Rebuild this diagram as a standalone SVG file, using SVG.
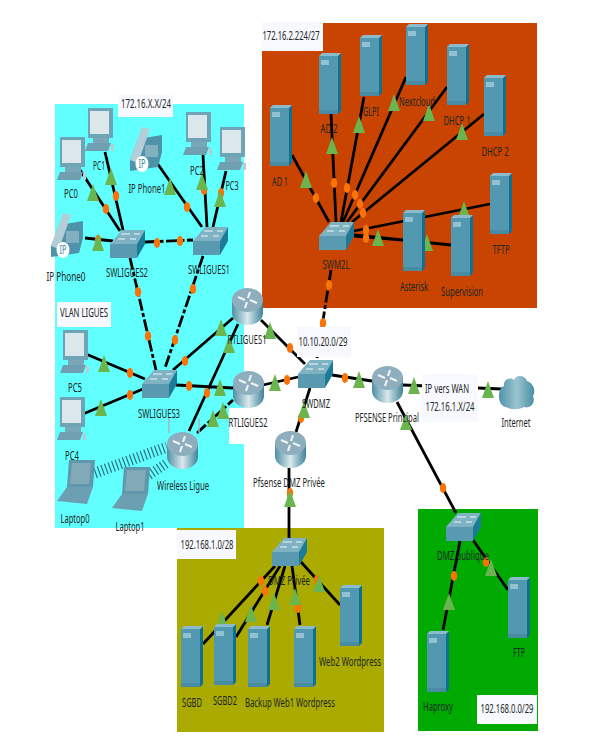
<svg xmlns="http://www.w3.org/2000/svg" xmlns:xlink="http://www.w3.org/1999/xlink" width="602" height="741" viewBox="0 0 602 741">
<style>
text{font-family:"Noto Sans","Open Sans","Liberation Sans",sans-serif;font-size:12.5px;fill:#1c2626;text-anchor:middle}
.ip{font-size:12px;fill:#4a8ea5}
.l{fill:none;stroke:#000;stroke-width:2.8}
.d{stroke-dasharray:12 2.5 4 2.5}
.w{fill:none;stroke:#2f6f80;stroke-dasharray:1.2 2.6}
.note{fill:#f8f9fe}
.t{fill:#6ab54d}
.o{fill:#f97408}
.arrow{fill:none;stroke:#f2f7f8;stroke-width:1}
</style>
<defs>
<linearGradient id="cyl" x1="0" x2="1" y1="0" y2="0"><stop offset="0" stop-color="#4f8ea4"/><stop offset=".5" stop-color="#d9e9ec"/><stop offset="1" stop-color="#3e8399"/></linearGradient>
<linearGradient id="cl" x1="0" x2="1" y1="0" y2="0"><stop offset="0" stop-color="#4e93aa"/><stop offset=".5" stop-color="#9cc4d0"/><stop offset="1" stop-color="#4a8ea6"/></linearGradient>
<polygon id="tri" class="t" points="0,-9 6,8 -6,8"/>
<ellipse id="dot" class="o" rx="3.2" ry="5"/>
<g id="server">
<rect x="0" y="4" width="19" height="58" fill="#5198b0"/>
<rect x="0" y="58" width="19" height="4" fill="#488ca3"/>
<polygon points="19,4 22,1 22,59 19,62" fill="#0f708f"/>
<polygon points="0,4 3,1 22,1 19,4" fill="#8cbccb"/>
<rect x="2" y="8" width="8" height="5" fill="#92c2d1"/>
</g>
<g id="switch">
<polygon points="0,14 12,0 35,0 27,14" fill="#7fb3c4"/>
<rect x="0" y="14" width="27" height="14" fill="#5a9ab0"/>
<polygon points="27,14 35,0 35,14 27,28" fill="#1c7b98"/>
<path class="arrow" d="M11,4H20M24,4H30M8,9H15M20,9H26"/>
</g>
<g id="router">
<path d="M0,12V25A15.5,12 0 0 0 31,25V12Z" fill="url(#cyl)"/>
<ellipse cx="15.5" cy="12" rx="15.5" ry="12" fill="#8eaebd"/>
<path d="M6,9L13,12M25,15L18,12M18,4L16,10M13,20L15,14" fill="none" stroke="#eef4f6" stroke-width="2.2"/>
</g>
<g id="pc">
<rect x="3" y="0" width="25" height="30" fill="#6fa3b6"/>
<rect x="5" y="3" width="19" height="23" fill="#dbe7eb"/>
<rect x="8" y="30" width="16" height="5" fill="#7aa7b8"/>
<polygon points="3,35 26,35 23,43 0,43" fill="#6f9fb1"/>
<rect x="26" y="36" width="3" height="7" fill="#b6ccd4"/>
</g>
<g id="phone">
<polygon points="8,12 32,8 32,25 28,40 0,44 0,33" fill="#4f93aa"/>
<polygon points="0,33 12,0 20,2 8,36" fill="#b4ced7"/>
<rect x="15" y="18" width="13" height="12" fill="#83b0bf"/>
<ellipse cx="12" cy="37" rx="6.5" ry="8" fill="#fff"/>
</g>
<g id="laptop">
<polygon points="12,1 38,1 36,28 10,28" fill="#5f98ad"/>
<polygon points="15,4 34,4 32,25 13,25" fill="#82a9b7"/>
<polygon points="10,28 36,28 30,45 0,42" fill="#6c9fb2"/>
</g>
</defs>

<rect x="55" y="104" width="189" height="424" fill="#62ffff"/>
<rect x="262" y="23" width="275" height="285" fill="#c84400"/>
<rect x="177" y="528" width="207" height="204" fill="#aaaa00"/>
<rect x="418" y="509" width="120" height="222" fill="#00aa00"/>
<rect x="229" y="408" width="16" height="36" fill="#fff"/>

<g id="connectors">
<path class="w" stroke-width="11" d="M95,473L167,447"/>
<path class="w" stroke-width="10" d="M149,475L167,463"/>
<path class="l" d="M80,170L120,231M105,152L123,230M157,163L202,227M203,155L207,227M226,171L213,227M85,238L113,241"/>
<path class="l d" d="M145,242L193,240M130,258L156,370M203,256L165,368M197,433L233,400M331,270L317,358"/>
<path class="l" d="M86,354L145,379M83,414L143,389M173,370L233,318M176,385L233,388M189,431L238,324M261,320L305,364M263,385L298,377"/>
<path class="l" d="M292,155L329,222M331,114L336,222M364,97L341,222M406,77L343,222M447,87L347,222M484,114L352,222M490,204L354,231M403,240L354,236M451,245L354,235"/>
<path class="l" d="M332,375L372,381M403,385L502,389M397,402L456,513M310,388L296,432M289,468V538"/>
<path class="l" d="M203,644L275,566M236,637L280,566M267,625L285,566M300,625L292,566M340,605L301,562M460,541L443,630M473,540L508,590"/>
<g>
<use href="#dot" x="106" y="209"/><use href="#dot" x="116" y="196"/><use href="#dot" x="187" y="207"/><use href="#dot" x="204" y="190"/><use href="#dot" x="221" y="193"/>
<use href="#dot" x="157" y="243"/><use href="#dot" x="180" y="241"/><use href="#dot" x="138" y="292"/><use href="#dot" x="148" y="336"/><use href="#dot" x="193" y="289"/><use href="#dot" x="175" y="340"/>
<use href="#dot" x="130" y="373"/><use href="#dot" x="130" y="395"/><use href="#dot" x="185" y="361"/><use href="#dot" x="189" y="386"/><use href="#dot" x="207" y="393"/>
<use href="#dot" x="290" y="348"/><use href="#dot" x="287" y="380"/><use href="#dot" x="316" y="198"/><use href="#dot" x="334" y="183"/><use href="#dot" x="347" y="188"/><use href="#dot" x="355" y="195"/><use href="#dot" x="360" y="204"/><use href="#dot" x="363" y="213"/><use href="#dot" x="366" y="230"/><use href="#dot" x="366" y="238"/>
<use href="#dot" x="329" y="285"/><use href="#dot" x="323" y="323"/><use href="#dot" x="345" y="378"/><use href="#dot" x="443" y="488"/><use href="#dot" x="301" y="418"/><use href="#dot" x="290" y="493"/>
<use href="#dot" x="261" y="581"/><use href="#dot" x="265" y="591"/><use href="#dot" x="298" y="608"/><use href="#dot" x="317" y="580"/><use href="#dot" x="454" y="576"/><use href="#dot" x="486" y="562"/><use href="#dot" x="98" y="240"/>
<use href="#tri" x="93" y="193"/><use href="#tri" x="111" y="177"/><use href="#tri" x="170" y="187"/><use href="#tri" x="202" y="182"/><use href="#tri" x="220" y="199"/><use href="#tri" x="98" y="243"/>
<use href="#tri" x="104" y="364"/><use href="#tri" x="101" y="408"/><use href="#tri" x="221" y="328"/><use href="#tri" x="220" y="388"/><use href="#tri" x="229" y="345"/><use href="#tri" x="213" y="419"/><use href="#tri" x="223" y="411"/>
<use href="#tri" x="270" y="331"/><use href="#tri" x="275" y="383"/><use href="#tri" x="306" y="180"/><use href="#tri" x="332" y="146"/><use href="#tri" x="359" y="125"/><use href="#tri" x="394" y="103"/><use href="#tri" x="429" y="113"/><use href="#tri" x="462" y="132"/><use href="#tri" x="464" y="210"/><use href="#tri" x="378" y="238"/><use href="#tri" x="427" y="243"/>
<use href="#tri" x="359" y="380"/><use href="#tri" x="414" y="386"/><use href="#tri" x="488" y="390"/><use href="#tri" x="406" y="422"/><use href="#tri" x="304" y="410"/><use href="#tri" x="290" y="499"/>
<use href="#tri" x="222" y="620"/><use href="#tri" x="251" y="614"/><use href="#tri" x="274" y="602"/><use href="#tri" x="295" y="597"/><use href="#tri" x="319" y="584"/><use href="#tri" x="449" y="602"/><use href="#tri" x="491" y="568"/>
</g>
</g>

<g id="notes">
<rect class="note" x="118" y="95" width="55" height="22"/><text x="146" y="108" textLength="50" lengthAdjust="spacingAndGlyphs">172.16.X.X/24</text>
<rect class="note" x="57" y="302" width="54" height="25"/><text x="84" y="317" textLength="48" lengthAdjust="spacingAndGlyphs">VLAN LIGUES</text>
<rect class="note" x="262" y="22" width="61" height="29"/><text x="291" y="40" textLength="57" lengthAdjust="spacingAndGlyphs">172.16.2.224/27</text>
<rect class="note" x="297" y="327" width="54" height="30"/><text x="323" y="346" textLength="49" lengthAdjust="spacingAndGlyphs">10.10.20.0/29</text>
<rect class="note" x="422" y="374" width="56" height="48"/><text x="447" y="393" textLength="44" lengthAdjust="spacingAndGlyphs">IP vers WAN</text><text x="450" y="411" textLength="49" lengthAdjust="spacingAndGlyphs">172.16.1.X/24</text>
<rect class="note" x="177" y="530" width="59" height="29"/><text x="207" y="549" textLength="53" lengthAdjust="spacingAndGlyphs">192.168.1.0/28</text>
<rect class="note" x="477" y="695" width="60" height="29"/><text x="507" y="713" textLength="53" lengthAdjust="spacingAndGlyphs">192.168.0.0/29</text>
</g>

<g id="PC0"><use href="#pc" x="57" y="137"/><text x="71" y="198" textLength="14" lengthAdjust="spacingAndGlyphs">PC0</text></g>
<g id="PC1"><use href="#pc" x="85" y="108"/><text x="99" y="170" textLength="12" lengthAdjust="spacingAndGlyphs">PC1</text></g>
<g id="IP-Phone1"><use href="#phone" x="130" y="127"/><text class="ip" x="142" y="168" textLength="7" lengthAdjust="spacingAndGlyphs">IP</text><text x="147" y="193" textLength="37" lengthAdjust="spacingAndGlyphs">IP Phone1</text></g>
<g id="PC2"><use href="#pc" x="183" y="112"/><text x="197" y="175" textLength="14" lengthAdjust="spacingAndGlyphs">PC2</text></g>
<g id="PC3"><use href="#pc" x="217" y="127"/><text x="232" y="190" textLength="13" lengthAdjust="spacingAndGlyphs">PC3</text></g>
<g id="IP-Phone0"><use href="#phone" x="51" y="213"/><text class="ip" x="63" y="254" textLength="7" lengthAdjust="spacingAndGlyphs">IP</text><text x="66" y="281" textLength="39" lengthAdjust="spacingAndGlyphs">IP Phone0</text></g>
<g id="SWLIGUES2"><use href="#switch" x="110" y="230"/><text x="127" y="277" textLength="42" lengthAdjust="spacingAndGlyphs">SWLIGUES2</text></g>
<g id="SWLIGUES1"><use href="#switch" x="193" y="227"/><text x="209" y="274" textLength="42" lengthAdjust="spacingAndGlyphs">SWLIGUES1</text></g>
<g id="PC5"><use href="#pc" x="60" y="330"/><text x="75" y="392" textLength="14" lengthAdjust="spacingAndGlyphs">PC5</text></g>
<g id="PC4"><use href="#pc" x="57" y="397"/><text x="72" y="460" textLength="14" lengthAdjust="spacingAndGlyphs">PC4</text></g>
<g id="SWLIGUES3"><use href="#switch" x="142" y="370"/><text x="159" y="418" textLength="42" lengthAdjust="spacingAndGlyphs">SWLIGUES3</text></g>
<g id="RTLIGUES1"><use href="#router" x="232" y="288"/><text x="247" y="344" textLength="39" lengthAdjust="spacingAndGlyphs">RTLIGUES1</text></g>
<g id="RTLIGUES2"><use href="#router" x="233" y="371"/><text x="248" y="427" textLength="39" lengthAdjust="spacingAndGlyphs">RTLIGUES2</text></g>
<g id="Wireless-Ligue"><path d="M169,418V433M199,418V433" stroke="#9fb9c2" stroke-width="1.5"/><use href="#router" x="167" y="432"/><text x="183" y="490" textLength="52" lengthAdjust="spacingAndGlyphs">Wireless Ligue</text></g>
<g id="Laptop0"><use href="#laptop" x="57" y="459"/><text x="75" y="523" textLength="29" lengthAdjust="spacingAndGlyphs">Laptop0</text></g>
<g id="Laptop1"><use href="#laptop" x="112" y="466"/><text x="130" y="531" textLength="29" lengthAdjust="spacingAndGlyphs">Laptop1</text></g>

<g id="AD1"><use href="#server" x="270" y="104"/><text x="280" y="186" textLength="16" lengthAdjust="spacingAndGlyphs">AD 1</text></g>
<g id="AD2"><use href="#server" x="319" y="52"/><text x="329" y="133" textLength="17" lengthAdjust="spacingAndGlyphs">AD 2</text></g>
<g id="GLPI"><use href="#server" x="360" y="34"/><text x="371" y="116" textLength="16" lengthAdjust="spacingAndGlyphs">GLPI</text></g>
<g id="Nextcloud"><use href="#server" x="406" y="23"/><text x="417" y="106" textLength="36" lengthAdjust="spacingAndGlyphs">Nextcloud</text></g>
<g id="DHCP1"><use href="#server" x="447" y="43"/><text x="457" y="125" textLength="27" lengthAdjust="spacingAndGlyphs">DHCP 1</text></g>
<g id="DHCP2"><use href="#server" x="484" y="74"/><text x="495" y="156" textLength="27" lengthAdjust="spacingAndGlyphs">DHCP 2</text></g>
<g id="TFTP"><use href="#server" x="490" y="172"/><text x="501" y="254" textLength="17" lengthAdjust="spacingAndGlyphs">TFTP</text></g>
<g id="Asterisk"><use href="#server" x="403" y="209"/><text x="414" y="291" textLength="28" lengthAdjust="spacingAndGlyphs">Asterisk</text></g>
<g id="Supervision"><use href="#server" x="451" y="214"/><text x="462" y="296" textLength="42" lengthAdjust="spacingAndGlyphs">Supervision</text></g>
<g id="SWM2L"><use href="#switch" x="319" y="222"/><text x="336" y="269" textLength="27" lengthAdjust="spacingAndGlyphs">SWM2L</text></g>

<g id="SWDMZ"><use href="#switch" x="298" y="360"/><text x="316" y="408" textLength="28" lengthAdjust="spacingAndGlyphs">SWDMZ</text></g>
<g id="PFSENSE-Principal"><use href="#router" x="372" y="366"/><text x="387" y="422" textLength="64" lengthAdjust="spacingAndGlyphs">PFSENSE Principal</text></g>
<g id="Internet"><path d="M506,407C497,406 497,388 504,386C503,378 512,377 514,380C516,374 525,375 527,381C534,383 536,392 533,396C536,403 530,409 524,407C518,410 512,410 506,407Z" fill="url(#cl)"/><text x="516" y="427" textLength="29" lengthAdjust="spacingAndGlyphs">Internet</text></g>
<g id="Pfsense-DMZ-Privee"><use href="#router" x="275" y="431"/><text x="289" y="487" textLength="72" lengthAdjust="spacingAndGlyphs">Pfsense DMZ Privée</text></g>

<g id="DMZ-Privee"><use href="#switch" x="272" y="538"/><text x="289" y="585" textLength="42" lengthAdjust="spacingAndGlyphs">DMZ Privée</text></g>
<g id="SGBD"><use href="#server" x="181" y="625"/><text x="192" y="707" textLength="20" lengthAdjust="spacingAndGlyphs">SGBD</text></g>
<g id="SGBD2"><use href="#server" x="214" y="623"/><text x="225" y="705" textLength="24" lengthAdjust="spacingAndGlyphs">SGBD2</text></g>
<g id="Backup-Web1"><use href="#server" x="248" y="625"/><text x="290" y="707" textLength="90" lengthAdjust="spacingAndGlyphs">Backup Web1 Wordpress</text></g>
<g id="Web1"><use href="#server" x="294" y="625"/></g>
<g id="Web2"><use href="#server" x="340" y="584"/><text x="350" y="666" textLength="62" lengthAdjust="spacingAndGlyphs">Web2 Wordpress</text></g>

<g id="DMZ-publique"><use href="#switch" x="446" y="513"/><text x="463" y="560" textLength="52" lengthAdjust="spacingAndGlyphs">DMZ publique</text></g>
<g id="Haproxy"><use href="#server" x="427" y="630"/><text x="438" y="711" textLength="30" lengthAdjust="spacingAndGlyphs">Haproxy</text></g>
<g id="FTP"><use href="#server" x="508" y="576"/><text x="519" y="657" textLength="12" lengthAdjust="spacingAndGlyphs">FTP</text></g>
</svg>
